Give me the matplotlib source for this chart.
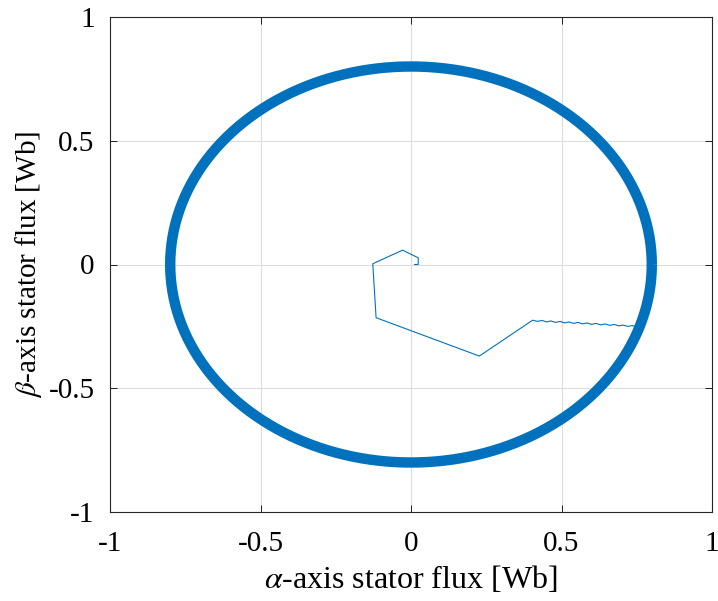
import numpy as np
import matplotlib
matplotlib.use('Agg')
from matplotlib import pyplot as plt

plt.rcParams['font.family'] = ['Liberation Serif', 'DejaVu Serif']
plt.rcParams['mathtext.fontset'] = 'stix'

# Transient flux path from start-up until it reaches the circle
start_alpha = [0.012, 0.024, 0.024, -0.028, -0.127, -0.116, 0.227, 0.404,
               0.42, 0.435, 0.45, 0.465, 0.48, 0.495, 0.51, 0.525, 0.54, 0.555,
               0.57, 0.585, 0.60, 0.615, 0.63, 0.645, 0.66, 0.675, 0.69, 0.705,
               0.72, 0.735, 0.753]
start_beta = [0.0, 0.0, 0.027, 0.058, 0.003, -0.215, -0.37, -0.225,
              -0.230, -0.226, -0.232, -0.228, -0.234, -0.230, -0.236, -0.232, -0.238, -0.234,
              -0.240, -0.236, -0.242, -0.238, -0.244, -0.240, -0.246, -0.242, -0.248, -0.245,
              -0.250, -0.247, -0.251]

# Steady-state flux circle (flux reference 0.8 Wb)
flux_ref = 0.8
theta = np.linspace(0, 2 * np.pi, 721)
circ_alpha = flux_ref * np.cos(theta)
circ_beta = flux_ref * np.sin(theta)

ticks = [-1, -0.5, 0, 0.5, 1]
tick_labels = ['-1', '-0.5', '0', '0.5', '1']

fig = plt.figure(figsize=(7.18, 6.01), dpi=100)
ax = fig.add_axes([110 / 718, 1 - 512 / 601, 602 / 718, 495 / 601])

ax.plot(circ_alpha, circ_beta, color='#0072BD', lw=7.5, solid_capstyle='butt')
ax.plot(start_alpha, start_beta, color='#0072BD', lw=0.8)

ax.set_xlim(-1, 1)
ax.set_ylim(-1, 1)
ax.set_xticks(ticks)
ax.set_xticklabels(tick_labels)
ax.set_yticks(ticks)
ax.set_yticklabels(tick_labels)
ax.grid(True, color='#dcdcdc', lw=0.8)
ax.set_axisbelow(True)
ax.tick_params(direction='in', length=5, width=0.6, top=True, right=True,
               labelsize=21)
ax.tick_params(axis='x', pad=14)
ax.tick_params(axis='y', pad=11)
for s in ax.spines.values():
    s.set_linewidth(0.8)
    s.set_color('#262626')

ax.set_xlabel(r'$\alpha$-axis stator flux [Wb]', fontsize=23, labelpad=5)
ax.set_ylabel(r'$\beta$-axis stator flux [Wb]', fontsize=21, labelpad=3)

fig.savefig('out.png', dpi=100)
